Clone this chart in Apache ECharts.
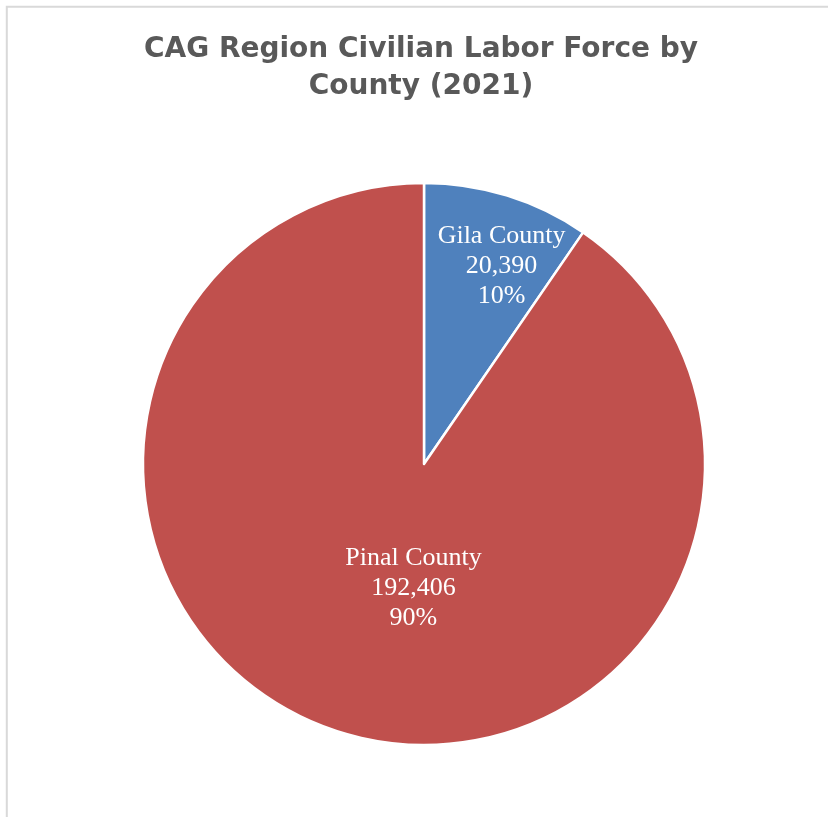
<!DOCTYPE html>
<html>
<head>
<meta charset="utf-8">
<title>CAG Region Civilian Labor Force by County (2021)</title>
<script src="https://cdn.jsdelivr.net/npm/echarts@6/dist/echarts.min.js"></script>
<style>
  html, body { margin: 0; padding: 0; background: #ffffff; }
  #chart { width: 828px; height: 817px; }
</style>
</head>
<body>
<div id="chart"></div>
<script>
// Civilian labor force, 2021, by county in the CAG region
const counties = ['Gila County', 'Pinal County'];
const laborForce = [20390, 192406];
const sliceColors = ['#4F81BD', '#C0504D'];
const titleText = 'CAG Region Civilian Labor Force by\nCounty (2021)';

// Nudges from the default "inside" label spot, per slice
const labelNudge = [[35, -61], [32, -13]];

const chart = echarts.init(document.getElementById('chart'), null, { renderer: 'canvas' });

const fmt = n => n.toLocaleString('en-US');

chart.setOption({
  backgroundColor: '#ffffff',
  animation: false,
  title: {
    text: titleText,
    left: 416,
    top: 26,
    textAlign: 'center',
    textStyle: {
      fontFamily: 'Verdana, "DejaVu Sans", sans-serif',
      fontWeight: 'bold',
      fontSize: 28,
      lineHeight: 37,
      color: '#595959'
    }
  },
  graphic: [{
    type: 'rect',
    silent: true,
    shape: { x: 6.8, y: 6.8, width: 1000, height: 1000 },
    style: { fill: 'none', stroke: '#d9d9d9', lineWidth: 2 }
  }],
  series: [{
    type: 'pie',
    center: [424, 464],
    radius: [0, 281],
    startAngle: 90,
    clockwise: true,
    avoidLabelOverlap: false,
    data: counties.map((name, i) => ({
      name,
      value: laborForce[i],
      itemStyle: { color: sliceColors[i] }
    })),
    itemStyle: { borderColor: '#ffffff', borderWidth: 2.5 },
    label: {
      show: true,
      position: 'inside',
      color: '#ffffff',
      fontFamily: '"Liberation Serif", "Times New Roman", serif',
      fontSize: 26,
      lineHeight: 30,
      align: 'center',
      formatter: p => p.name + '\n' + fmt(p.value) + '\n' + Math.round(p.percent) + '%'
    },
    labelLine: { show: false },
    labelLayout: p => ({ dx: labelNudge[p.dataIndex][0], dy: labelNudge[p.dataIndex][1] }),
    emphasis: { disabled: true }
  }]
});
</script>
</body>
</html>
